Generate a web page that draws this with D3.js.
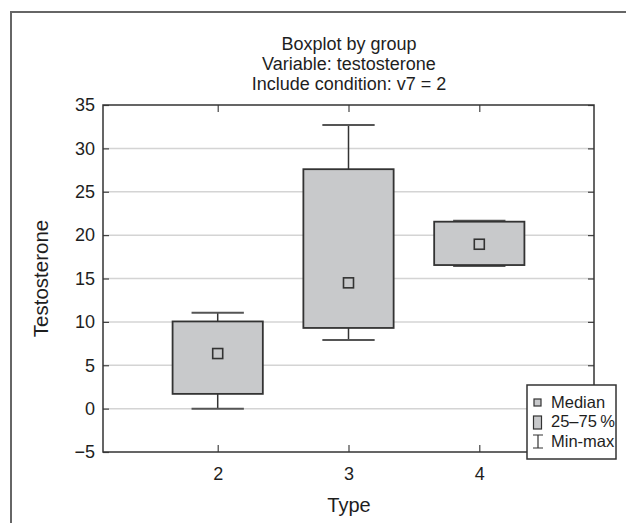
<!DOCTYPE html>
<html>
<head>
<meta charset="utf-8">
<script src="https://cdn.jsdelivr.net/npm/d3@7"></script>
<style>
  body { margin: 0; background: #fff; }
  svg { display: block; font-family: "Liberation Sans", Arial, sans-serif; }
</style>
</head>
<body>
<svg id="chart" width="626" height="523"></svg>
<script>
// data
const groups = [2, 3, 4];
const mins    = [0.0, 7.9, 16.45];
const q1s     = [1.7, 9.3, 16.55];
const medians = [6.35, 14.5, 18.95];
const q3s     = [10.05, 27.6, 21.55];
const maxs    = [11.05, 32.7, 21.65];
const yTicks = [-5, 0, 5, 10, 15, 20, 25, 30, 35];
const titleLines = ['Boxplot by group', 'Variable: testosterone', 'Include condition: v7 = 2'];
const legendItems = ['Median', '25\u201375\u2009%', 'Min-max'];

const svg = d3.select('#chart');
const plotL = 103, plotR = 594, plotT = 105, plotB = 452;

const x = d3.scaleLinear().domain([1.123, 4.877]).range([plotL, plotR]);
const y = d3.scaleLinear().domain([-5, 35]).range([plotB, plotT]);

const boxFill = '#c8c9cb', ink = '#333', txt = '#1e1e1e';

// outer frame (only top and left visible)
svg.append('path')
  .attr('d', 'M11,523V12H626')
  .attr('fill', 'none').attr('stroke', '#666').attr('stroke-width', 2);

// title
svg.append('g').selectAll('text').data(titleLines).join('text')
  .attr('x', 349).attr('y', (d, i) => 49.5 + i * 20.2)
  .attr('text-anchor', 'middle').attr('font-size', 18).attr('fill', txt)
  .text(d => d);

// gridlines
svg.append('g').selectAll('line').data(yTicks.filter(t => t > -5 && t < 35)).join('line')
  .attr('x1', plotL).attr('x2', plotR)
  .attr('y1', d => y(d)).attr('y2', d => y(d))
  .attr('stroke', '#d4d4d4').attr('stroke-width', 1.5);

// axes with inward ticks
const axisStyle = g => {
  g.select('.domain').remove();
  g.selectAll('.tick line').attr('stroke', '#444').attr('stroke-width', 1.2);
  g.selectAll('.tick text').attr('font-size', 18).attr('fill', txt)
    .attr('font-family', '"Liberation Sans", Arial, sans-serif');
};
svg.append('g').attr('transform', `translate(${plotL},0)`)
  .call(d3.axisLeft(y).tickValues(yTicks).tickSize(-6).tickPadding(8)
    .tickFormat(d => d < 0 ? '\u2212' + Math.abs(d) : d))
  .call(axisStyle);
svg.append('g').attr('transform', `translate(${plotR},0)`)
  .call(d3.axisRight(y).tickValues(yTicks).tickSize(-6).tickFormat(''))
  .call(axisStyle);
svg.append('g').attr('transform', `translate(0,${plotB})`)
  .call(d3.axisBottom(x).tickValues(groups).tickSize(-7).tickPadding(15).tickFormat(d3.format('d')))
  .call(axisStyle);
svg.append('g').attr('transform', `translate(0,${plotT})`)
  .call(d3.axisTop(x).tickValues(groups).tickSize(-7).tickFormat(''))
  .call(axisStyle);

svg.append('rect').attr('x', plotL).attr('y', plotT)
  .attr('width', plotR - plotL).attr('height', plotB - plotT)
  .attr('fill', 'none').attr('stroke', ink).attr('stroke-width', 1.5);

// boxes
const rows = groups.map((g, i) => ({g, min: mins[i], q1: q1s[i], med: medians[i], q3: q3s[i], max: maxs[i]}));
const boxW = x(0.69) - x(0), capW = x(0.4) - x(0);
const bx = svg.append('g').selectAll('g').data(rows).join('g');

bx.append('line').attr('x1', d => x(d.g)).attr('x2', d => x(d.g))
  .attr('y1', d => y(d.max)).attr('y2', d => y(d.min))
  .attr('stroke', ink).attr('stroke-width', 1.5);
bx.selectAll('.cap').data(d => [[d.g, d.max], [d.g, d.min]]).join('line')
  .attr('class', 'cap')
  .attr('x1', d => x(d[0]) - capW / 2).attr('x2', d => x(d[0]) + capW / 2)
  .attr('y1', d => y(d[1])).attr('y2', d => y(d[1]))
  .attr('stroke', '#555').attr('stroke-width', 2);
bx.append('rect')
  .attr('x', d => x(d.g) - boxW / 2).attr('width', boxW)
  .attr('y', d => y(d.q3)).attr('height', d => y(d.q1) - y(d.q3))
  .attr('fill', boxFill).attr('stroke', ink).attr('stroke-width', 1.8);
bx.append('rect')
  .attr('x', d => x(d.g) - 5).attr('width', 10)
  .attr('y', d => y(d.med) - 5).attr('height', 10)
  .attr('fill', boxFill).attr('stroke', ink).attr('stroke-width', 1.6);

// axis titles
svg.append('text').attr('transform', 'translate(48,278.5) rotate(-90)')
  .attr('text-anchor', 'middle').attr('font-size', 20.5).attr('fill', txt).text('Testosterone');
svg.append('text').attr('x', 349).attr('y', 512)
  .attr('text-anchor', 'middle').attr('font-size', 20).attr('fill', txt).text('Type');

// legend
const lg = svg.append('g').attr('transform', 'translate(527,385)');
lg.append('rect').attr('width', 89).attr('height', 74)
  .attr('fill', '#fff').attr('stroke', ink).attr('stroke-width', 1.5);
lg.selectAll('text').data(legendItems).join('text')
  .attr('x', 24).attr('y', (d, i) => 23 + i * 19.3)
  .attr('font-size', 16.5).attr('fill', txt)
  .attr('font-family', '"Liberation Sans Narrow", "Arial Narrow", sans-serif')
  .text(d => d);
lg.append('rect').attr('x', 7).attr('y', 14).attr('width', 7).attr('height', 7)
  .attr('fill', boxFill).attr('stroke', ink).attr('stroke-width', 1.2);
lg.append('rect').attr('x', 6.5).attr('y', 31).attr('width', 8).attr('height', 13)
  .attr('fill', boxFill).attr('stroke', ink).attr('stroke-width', 1.2);
lg.append('path').attr('d', 'M6,50H16M11,50V63M6,63H16')
  .attr('fill', 'none').attr('stroke', ink).attr('stroke-width', 1.2);
</script>
</body>
</html>
